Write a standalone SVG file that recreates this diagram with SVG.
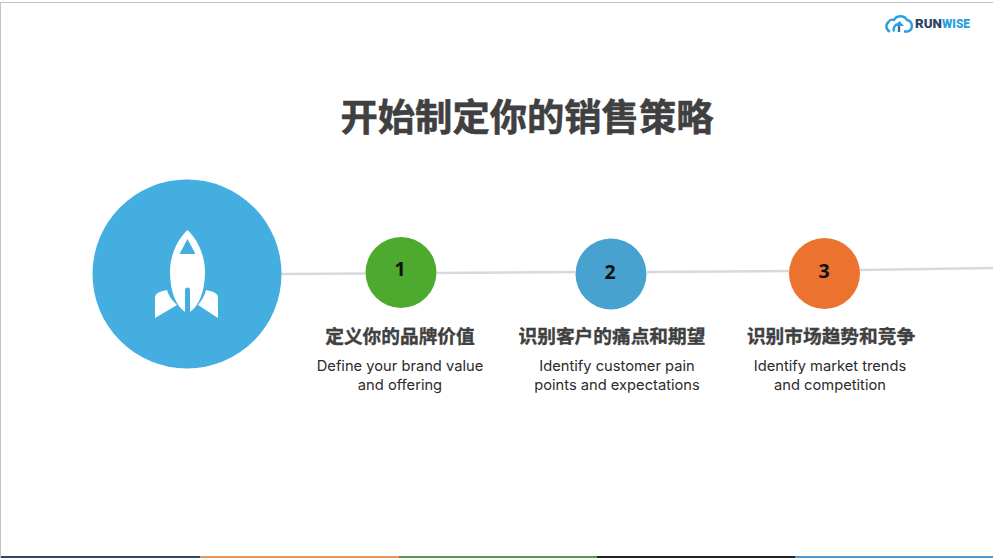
<svg xmlns="http://www.w3.org/2000/svg" width="993" height="558" viewBox="0 0 993 558">
<style>
.t{font-family:"Noto Sans CJK SC","Noto Sans",sans-serif;text-anchor:middle}
.h{font-size:18.700px;font-weight:700;fill:#404040;stroke:#404040;stroke-width:.35px}
.d{font-family:Inter,"Noto Sans",sans-serif;font-size:14.700px;fill:#2b2b2b;text-anchor:middle}
.n{font-family:"Open Sans","Noto Sans",sans-serif;font-size:19.500px;font-weight:700;fill:#111;text-anchor:middle}
</style>
<rect width="993" height="558" fill="#fff"/>
<rect x="0" y="2" width="993" height="1" fill="#c4c4c4"/>
<rect x="0" y="2" width="1" height="556" fill="#c4c4c4"/>
<g id="footer">
<rect x="1" y="556" width="199" height="2" fill="#2f4468"/>
<rect x="200" y="556" width="199" height="2" fill="#f0935a"/>
<rect x="399" y="556" width="198" height="2" fill="#4f9a47"/>
<rect x="597" y="556" width="198" height="2" fill="#222"/>
<rect x="795" y="556" width="198" height="2" fill="#4f97c4"/>
</g>
<g id="logo">
<path d="M890 31.500 A5.500 5.500 0 0 1 888.500 22 A4.500 4.500 0 0 1 894 20 A7.500 7.500 0 0 1 907 20 A6 6 0 0 1 908 31.500 L904 31.500" fill="none" stroke="#2a9fe0" stroke-width="2.400"/>
<path d="M894 31.500 A5.500 5.500 0 0 1 899 24" fill="none" stroke="#2a9fe0" stroke-width="2.400"/>
<path d="M899 32 L899 25" fill="none" stroke="#2f6fb0" stroke-width="2.400"/>
<path d="M895 26 L899.500 21 L904 26Z" fill="#2a9fe0"/>
<text x="915" y="28" font-family="Roboto,'Liberation Sans',sans-serif" font-size="13" font-weight="900" fill="#2f4468" textLength="27" lengthAdjust="spacingAndGlyphs">RUN</text>
<text x="942" y="28" font-family="Roboto,'Liberation Sans',sans-serif" font-size="13" font-weight="900" fill="#2a9fe0" textLength="28" lengthAdjust="spacingAndGlyphs">WISE</text>
</g>
<text id="title" class="t" x="527" y="131" font-size="37.300" font-weight="700" fill="#404040" stroke="#404040" stroke-width=".6">开始制定你的销售策略</text>
<g id="connectors" fill="none" stroke="#d9d9d9" stroke-width="2.500">
<path d="M281 274 L365 273.500"/>
<path d="M437 273 L575 272"/>
<path d="M647 272 L789 271"/>
<path d="M860 270 L993 268"/>
</g>
<g id="rocket-node">
<circle cx="187" cy="274" r="94.500" fill="#45aee0"/>
<path d="M187.500 230 C180 237 170 252 170 272 C170 291 176 306 185 312 L185 290 A2.500 2.500 0 0 1 190 290 L190 312 C199 306 205 291 205 272 C205 252 195 237 187.500 230Z" fill="#fff"/>
<path d="M187.500 239 L195.500 254 L179.500 254Z" fill="#45aee0"/>
<path d="M155 318 L155 297 Q155 292 167 290 Q169 298 177 305Z" fill="#fff"/>
<path d="M218 318 L218 297 Q218 292 206 290 Q204 298 198 305Z" fill="#fff"/>
</g>
<g id="step-1">
<circle cx="401" cy="272.500" r="35.500" fill="#4eaa2e"/>
<text class="n" x="400" y="276">1</text>
<text class="t h" x="400" y="343">定义你的品牌价值</text>
<text class="d" x="400" y="371">Define your brand value</text>
<text class="d" x="400" y="390">and offering</text>
</g>
<g id="step-2">
<circle cx="611" cy="274" r="35.500" fill="#48a2cf"/>
<text class="n" x="610" y="279">2</text>
<text class="t h" x="612" y="343">识别客户的痛点和期望</text>
<text class="d" x="617" y="371">Identify customer pain</text>
<text class="d" x="617" y="390">points and expectations</text>
</g>
<g id="step-3">
<circle cx="824.500" cy="273.500" r="35.500" fill="#ec7230"/>
<text class="n" x="824" y="278">3</text>
<text class="t h" x="831" y="343">识别市场趋势和竞争</text>
<text class="d" x="830" y="371">Identify market trends</text>
<text class="d" x="830" y="390">and competition</text>
</g>
</svg>
